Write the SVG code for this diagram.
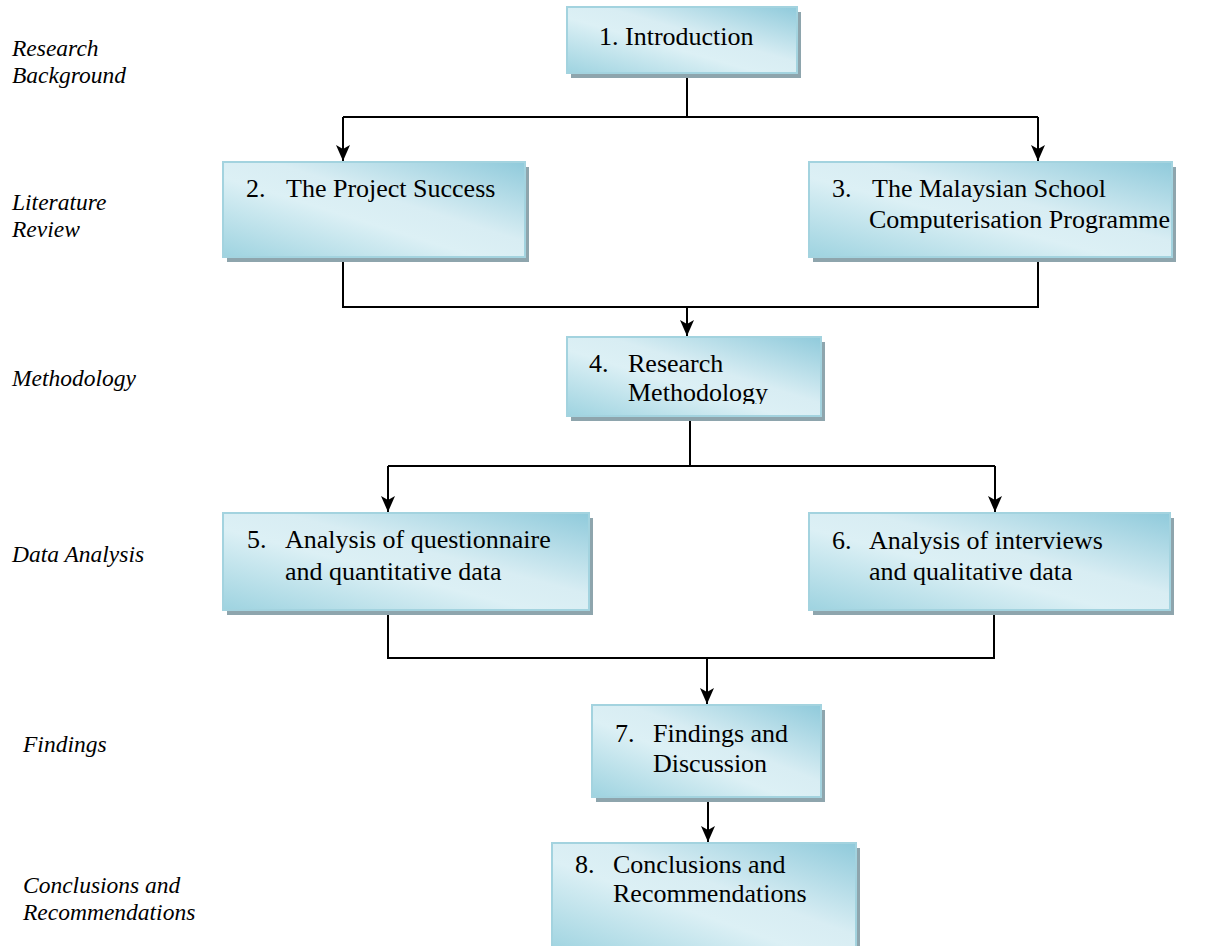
<svg xmlns="http://www.w3.org/2000/svg" width="1210" height="946" viewBox="0 0 1210 946">
  <style>
    .box { fill: url(#boxFill); stroke: #a3d3df; stroke-width: 2; }
    .shadow { fill: #8ea5ad; }
    .label { font-family: "Liberation Serif", "Times New Roman", serif; font-size: 26px; fill: #000; }
    .side { font-family: "Liberation Serif", "Times New Roman", serif; font-size: 23.5px; font-style: italic; fill: #000; }
    .conn { fill: none; stroke: #000; stroke-width: 2; }
  </style>
  <defs>
    <linearGradient id="boxFill" x1="1" y1="0" x2="0" y2="1">
      <stop offset="0" stop-color="#8fcadb"/>
      <stop offset="0.42" stop-color="#d8edf3"/>
      <stop offset="0.58" stop-color="#dcf0f5"/>
      <stop offset="1" stop-color="#9ed3e0"/>
    </linearGradient>
    <!-- filled arrowhead with a notched back, tip at the line end -->
    <marker id="arrow" viewBox="0 0 16 14" markerWidth="16" markerHeight="14" refX="16" refY="7" orient="auto" markerUnits="userSpaceOnUse">
      <path d="M0,0 L16,7 L0,14 L4,7 Z" fill="#000"/>
    </marker>
    <clipPath id="clip4">
      <rect x="567" y="337" width="254" height="67"/>
    </clipPath>
  </defs>

  <rect width="1210" height="946" fill="#fff"/>

  <!-- stage labels down the left side -->
  <g id="stages">
    <text class="side" x="12" y="56">Research</text>
    <text class="side" x="12" y="83">Background</text>
    <text class="side" x="12" y="210">Literature</text>
    <text class="side" x="12" y="237">Review</text>
    <text class="side" x="12" y="386">Methodology</text>
    <text class="side" x="12" y="562">Data Analysis</text>
    <text class="side" x="23" y="752">Findings</text>
    <text class="side" x="23" y="893">Conclusions and</text>
    <text class="side" x="23" y="920">Recommendations</text>
  </g>

  <!-- connectors -->
  <g id="connectors">
    <path class="conn" d="M687,73 V117 M343,117 H1038"/>
    <path class="conn" d="M343,117 V161" marker-end="url(#arrow)"/>
    <path class="conn" d="M1038,117 V161" marker-end="url(#arrow)"/>
    <path class="conn" d="M343,257 V307 H1038 V257"/>
    <path class="conn" d="M687,307 V336" marker-end="url(#arrow)"/>
    <path class="conn" d="M690,416 V466 M388,466 H995"/>
    <path class="conn" d="M388,466 V512" marker-end="url(#arrow)"/>
    <path class="conn" d="M995,466 V512" marker-end="url(#arrow)"/>
    <path class="conn" d="M388,611 V658 H994 V611"/>
    <path class="conn" d="M707,658 V704" marker-end="url(#arrow)"/>
    <path class="conn" d="M708,798 V842" marker-end="url(#arrow)"/>
  </g>

  <g id="node1">
    <rect class="shadow" x="571" y="12" width="230" height="66"/>
    <rect class="box" x="567" y="7" width="230" height="66"/>
    <text class="label" x="599" y="45">1. Introduction</text>
  </g>

  <g id="node2">
    <rect class="shadow" x="227" y="167" width="302" height="95"/>
    <rect class="box" x="223" y="162" width="302" height="95"/>
    <text class="label" x="246" y="197">2.</text>
    <text class="label" x="286" y="197">The Project Success</text>
  </g>

  <g id="node3">
    <rect class="shadow" x="813" y="167" width="363" height="95"/>
    <rect class="box" x="809" y="162" width="363" height="95"/>
    <text class="label" x="832" y="197">3.</text>
    <text class="label" x="872" y="197">The Malaysian School</text>
    <text class="label" x="869" y="228">Computerisation Programme</text>
  </g>

  <g id="node4">
    <rect class="shadow" x="571" y="342" width="254" height="79"/>
    <rect class="box" x="567" y="337" width="254" height="79"/>
    <g clip-path="url(#clip4)">
      <text class="label" x="589" y="372">4.</text>
      <text class="label" x="628" y="372">Research</text>
      <text class="label" x="628" y="401">Methodology</text>
    </g>
  </g>

  <g id="node5">
    <rect class="shadow" x="227" y="518" width="366" height="97"/>
    <rect class="box" x="223" y="513" width="366" height="97"/>
    <text class="label" x="247" y="548">5.</text>
    <text class="label" x="285" y="548">Analysis of questionnaire</text>
    <text class="label" x="285" y="580">and quantitative data</text>
  </g>

  <g id="node6">
    <rect class="shadow" x="813" y="518" width="361" height="97"/>
    <rect class="box" x="809" y="513" width="361" height="97"/>
    <text class="label" x="832" y="549">6.</text>
    <text class="label" x="869" y="549">Analysis of interviews</text>
    <text class="label" x="869" y="580">and qualitative data</text>
  </g>

  <g id="node7">
    <rect class="shadow" x="596" y="710" width="229" height="92"/>
    <rect class="box" x="592" y="705" width="229" height="92"/>
    <text class="label" x="615" y="742">7.</text>
    <text class="label" x="653" y="742">Findings and</text>
    <text class="label" x="653" y="772">Discussion</text>
  </g>

  <g id="node8">
    <rect class="shadow" x="556" y="848" width="304" height="110"/>
    <rect class="box" x="552" y="843" width="304" height="110"/>
    <text class="label" x="575" y="873">8.</text>
    <text class="label" x="613" y="873">Conclusions and</text>
    <text class="label" x="613" y="902">Recommendations</text>
  </g>
</svg>
